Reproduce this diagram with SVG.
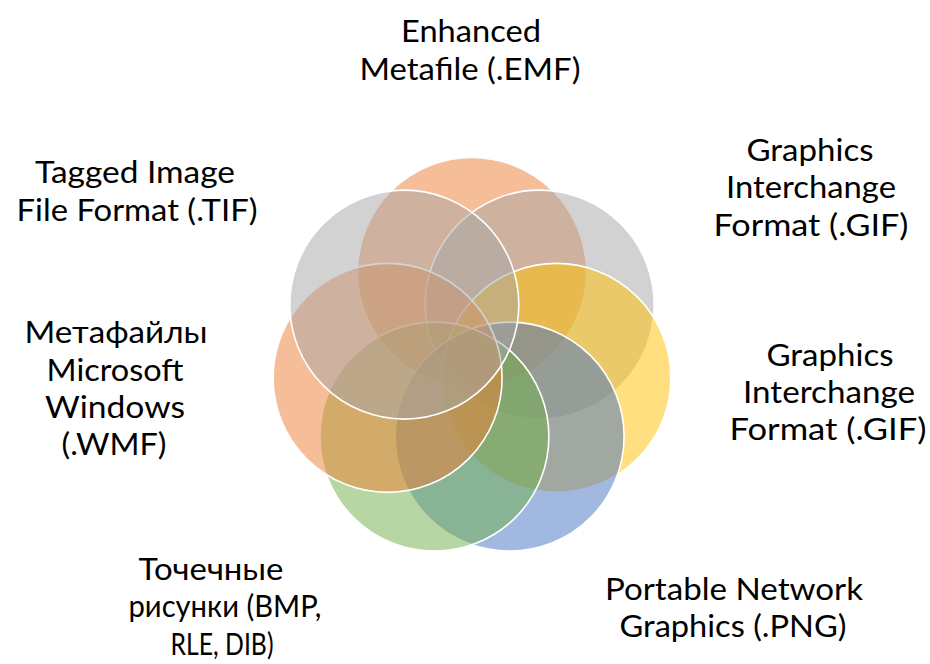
<svg xmlns="http://www.w3.org/2000/svg" width="930" height="664" viewBox="0 0 930 664">
  <style>
    .ring { fill-opacity: 0.5; stroke: #FFFFFF; stroke-width: 1.6; }
    .orange { fill: #ED7D31; }
    .gray { fill: #A5A5A5; }
    .gold { fill: #FFC000; }
    .blue { fill: #4472C4; }
    .green { fill: #70AD47; }
    .label { font-family: Lato, "Open Sans", "DejaVu Sans", sans-serif; font-size: 30.5px; fill: #000000; text-anchor: middle; }
  </style>
  <rect x="0" y="0" width="930" height="664" fill="#FFFFFF"/>

  <!-- seven overlapping circles on a ring, centre (472, 358.6), ring radius 86.6 -->
  <g id="node-emf">
    <circle class="ring orange" cx="472" cy="272" r="114.5"/>
    <text class="label" x="471" y="42" textLength="140" lengthAdjust="spacingAndGlyphs">Enhanced</text>
    <text class="label" x="470" y="80" textLength="221" lengthAdjust="spacingAndGlyphs">Metafile (.EMF)</text>
  </g>
  <g id="node-gif-1">
    <circle class="ring gray" cx="539.7" cy="304.6" r="114.5"/>
    <text class="label" x="810" y="161" textLength="127" lengthAdjust="spacingAndGlyphs">Graphics</text>
    <text class="label" x="811" y="198" textLength="170" lengthAdjust="spacingAndGlyphs">Interchange</text>
    <text class="label" x="811" y="236" textLength="195" lengthAdjust="spacingAndGlyphs">Format (.GIF)</text>
  </g>
  <g id="node-gif-2">
    <circle class="ring gold" cx="556.4" cy="377.9" r="114.5"/>
    <text class="label" x="830" y="366" textLength="127" lengthAdjust="spacingAndGlyphs">Graphics</text>
    <text class="label" x="829" y="403" textLength="172" lengthAdjust="spacingAndGlyphs">Interchange</text>
    <text class="label" x="828" y="440" textLength="197" lengthAdjust="spacingAndGlyphs">Format (.GIF)</text>
  </g>
  <g id="node-png">
    <circle class="ring blue" cx="509.6" cy="436.6" r="114.5"/>
    <text class="label" x="734" y="600" textLength="258" lengthAdjust="spacingAndGlyphs">Portable Network</text>
    <text class="label" x="733" y="637" textLength="227" lengthAdjust="spacingAndGlyphs">Graphics (.PNG)</text>
  </g>
  <g id="node-bmp">
    <circle class="ring green" cx="434.4" cy="436.6" r="114.5"/>
    <text class="label" x="211" y="580" textLength="145" lengthAdjust="spacingAndGlyphs">Точечные</text>
    <text class="label" x="225" y="617" textLength="193" lengthAdjust="spacingAndGlyphs">рисунки (BMP,</text>
    <text class="label" x="222" y="655" textLength="103" lengthAdjust="spacingAndGlyphs">RLE, DIB)</text>
  </g>
  <g id="node-wmf">
    <circle class="ring orange" cx="387.6" cy="377.9" r="114.5"/>
    <text class="label" x="116" y="343" textLength="183" lengthAdjust="spacingAndGlyphs">Метафайлы</text>
    <text class="label" x="115" y="381" textLength="137" lengthAdjust="spacingAndGlyphs">Microsoft</text>
    <text class="label" x="115" y="418" textLength="140" lengthAdjust="spacingAndGlyphs">Windows</text>
    <text class="label" x="114" y="455" textLength="105" lengthAdjust="spacingAndGlyphs">(.WMF)</text>
  </g>
  <g id="node-tif">
    <circle class="ring gray" cx="404.3" cy="304.6" r="114.5"/>
    <text class="label" x="135" y="183" textLength="200" lengthAdjust="spacingAndGlyphs">Tagged Image</text>
    <text class="label" x="137" y="221" textLength="241" lengthAdjust="spacingAndGlyphs">File Format (.TIF)</text>
  </g>
</svg>
